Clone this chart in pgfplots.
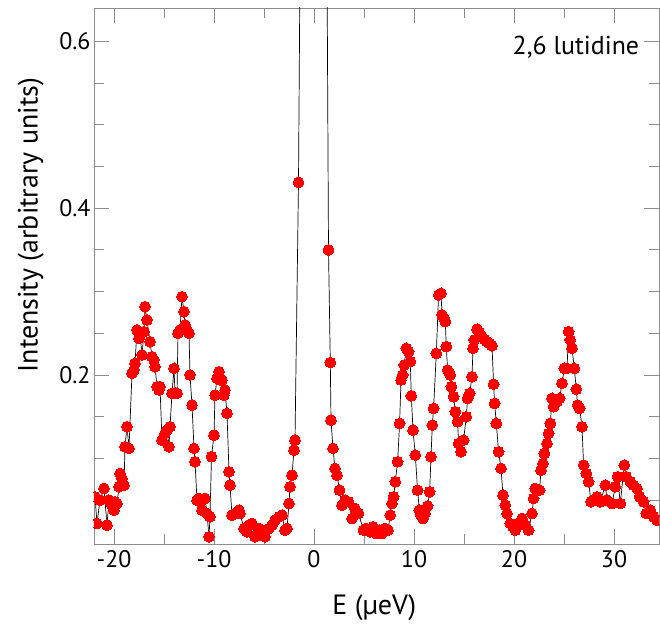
\documentclass[border=0pt]{standalone}
\usepackage{pgfplots}
\pgfplotsset{compat=1.18}
\usepackage{fontspec}
\setmainfont{PT Sans}

\pgfplotstableread{
x y
-21.9 0.054
-21.7 0.022
-21.4 0.050
-21.0 0.064
-20.7 0.020
-20.5 0.050
-20.2 0.044
-20.0 0.038
-19.9 0.048
-19.7 0.046
-19.5 0.066
-19.4 0.082
-19.2 0.076
-19.0 0.068
-18.9 0.114
-18.7 0.138
-18.5 0.112
-18.2 0.202
-18.0 0.206
-17.9 0.214
-17.7 0.254
-17.5 0.244
-17.4 0.250
-17.2 0.224
-17.0 0.252
-16.9 0.282
-16.7 0.266
-16.4 0.240
-16.2 0.222
-16.0 0.218
-15.9 0.210
-15.7 0.186
-15.5 0.182
-15.4 0.186
-15.2 0.122
-14.9 0.130
-14.7 0.134
-14.5 0.114
-14.4 0.138
-14.2 0.178
-14.0 0.208
-13.9 0.178
-13.7 0.178
-13.6 0.250
-13.4 0.254
-13.2 0.294
-13.0 0.276
-12.9 0.260
-12.7 0.254
-12.5 0.250
-12.4 0.200
-12.2 0.164
-12.0 0.112
-11.9 0.096
-11.7 0.050
-11.5 0.052
-11.4 0.048
-11.2 0.038
-10.9 0.052
-10.7 0.034
-10.5 0.006
-10.4 0.030
-10.25 0.102
-10.0 0.128
-9.9 0.176
-9.7 0.196
-9.5 0.204
-9.4 0.194
-9.2 0.194
-9.0 0.176
-8.9 0.182
-8.7 0.154
-8.5 0.084
-8.4 0.068
-8.2 0.032
-7.9 0.034
-7.5 0.038
-7.4 0.034
-7.0 0.016
-6.7 0.012
-6.5 0.020
-6.2 0.022
-5.9 0.006
-5.5 0.016
-5.2 0.014
-4.9 0.006
-4.5 0.016
-4.2 0.020
-3.9 0.026
-3.5 0.030
-3.2 0.032
-2.9 0.014
-2.7 0.016
-2.5 0.046
-2.4 0.066
-2.2 0.080
-2.0 0.110
-1.9 0.122
-1.55 0.431
-1.25 0.95
-0.9 2.0
-0.6 3.5
-0.3 4.5
0.0 5.0
0.3 4.5
0.6 3.5
0.9 2.0
1.2 0.93
1.45 0.350
1.63 0.215
1.7 0.146
1.9 0.112
2.1 0.088
2.3 0.080
2.55 0.062
2.8 0.044
3.1 0.050
3.45 0.048
3.8 0.028
4.1 0.040
4.45 0.034
4.95 0.014
5.2 0.016
5.6 0.012
5.9 0.018
6.2 0.010
6.5 0.014
6.8 0.010
7.1 0.016
7.4 0.014
7.63 0.032
7.8 0.046
7.96 0.054
8.13 0.072
8.36 0.096
8.56 0.142
8.7 0.194
8.86 0.200
9.03 0.212
9.23 0.232
9.46 0.228
9.63 0.216
9.73 0.175
9.9 0.134
10.13 0.104
10.36 0.062
10.53 0.038
10.7 0.032
10.9 0.028
11.1 0.034
11.36 0.043
11.56 0.060
11.7 0.102
11.83 0.140
11.96 0.160
12.23 0.226
12.46 0.296
12.7 0.298
12.8 0.272
13.0 0.268
13.13 0.264
13.23 0.234
13.36 0.206
13.63 0.200
13.73 0.186
13.96 0.174
14.13 0.156
14.36 0.144
14.46 0.118
14.7 0.108
14.96 0.122
15.23 0.150
15.36 0.172
15.56 0.178
15.8 0.198
15.9 0.232
16.03 0.242
16.3 0.255
16.56 0.251
16.8 0.246
17.03 0.243
17.3 0.240
17.56 0.238
17.8 0.235
17.96 0.189
18.06 0.166
18.23 0.142
18.46 0.108
18.7 0.088
18.9 0.056
19.13 0.044
19.3 0.034
19.63 0.022
19.9 0.018
20.13 0.014
20.46 0.022
20.8 0.028
21.13 0.020
21.46 0.014
21.8 0.034
21.96 0.052
22.13 0.064
22.56 0.062
22.7 0.086
22.9 0.094
23.03 0.106
23.3 0.118
23.46 0.130
23.63 0.142
23.8 0.172
23.96 0.162
24.3 0.168
24.56 0.172
24.8 0.190
25.03 0.208
25.3 0.208
25.46 0.252
25.63 0.242
25.8 0.232
26.03 0.208
26.23 0.183
26.36 0.164
26.56 0.160
26.8 0.138
26.96 0.092
27.23 0.082
27.46 0.072
27.7 0.048
27.96 0.050
28.3 0.054
28.63 0.048
29.13 0.068
29.3 0.050
29.8 0.046
30.13 0.066
30.36 0.078
30.63 0.046
31.03 0.092
31.23 0.078
31.63 0.072
31.96 0.068
32.3 0.064
32.56 0.054
32.96 0.048
33.23 0.034
33.63 0.038
33.96 0.030
34.3 0.026
}\lutidine

\begin{document}
\begin{tikzpicture}
\begin{axis}[
  name=ax,
  scale only axis,
  width=565bp, height=536bp,
  xmin=-22, xmax=34.5,
  ymin=-0.0026, ymax=0.64,
  xtick={-20,-10,0,10,20,30},
  minor xtick={-15,-5,5,15,25},
  ytick={0.2,0.4,0.6},
  minor ytick={0.05,0.1,0.15,0.25,0.3,0.35,0.45,0.5,0.55},
  tick align=inside,
  major tick length=15bp,
  minor tick length=10bp,
  axis line style={black!45, line width=0.8bp},
  every tick/.style={black!45, line width=0.8bp},
  /pgf/number format/assume math mode=true,
  /pgf/number format/fixed,
  ticklabel style={font=\fontsize{24}{28}\selectfont, black},
  xticklabel style={yshift=-3bp},
  label style={font=\fontsize{28}{32}\selectfont},
  xlabel={E (µeV)},
  ylabel={Intensity (arbitrary units)},
  xlabel style={at={(axis description cs:0.496,-0.119)}, anchor=center},
  ylabel style={at={(axis description cs:-0.112,0.595)}, anchor=center},
  clip marker paths=true,
]
\addplot[black, line width=0.7bp, mark=*, mark size=5.4bp,
  mark options={fill=red, draw=red, line width=0pt}] table[x=x, y=y] {\lutidine};
\node[font=\fontsize{26}{30}\selectfont, anchor=center]
  at (axis description cs:0.853,0.927) {2,6 lutidine};
\end{axis}
\pgfresetboundingbox
\path ([shift={(-94bp,-83bp)}]ax.south west) rectangle ([shift={(1bp,8bp)}]ax.north east);
\end{tikzpicture}
\end{document}
